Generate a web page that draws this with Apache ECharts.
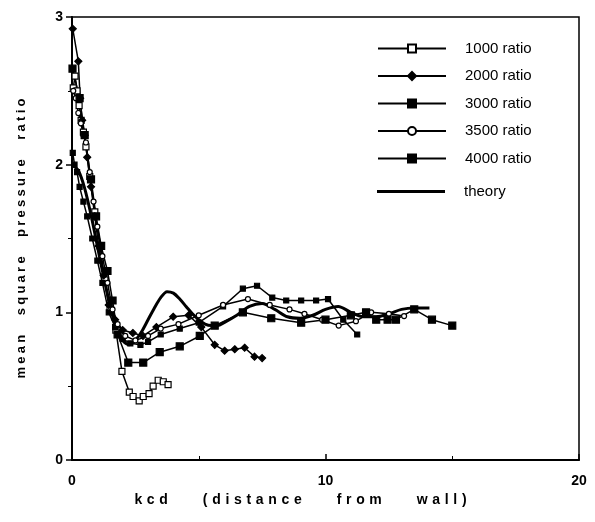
<!DOCTYPE html>
<html>
<head>
<meta charset="utf-8">
<script src="https://cdn.jsdelivr.net/npm/echarts@6/dist/echarts.min.js"></script>
<style>
  html, body { margin: 0; padding: 0; background: #fff; }
  #chart { width: 595px; height: 522px; }
</style>
</head>
<body>
<div id="chart"></div>
<script>
// Measured mean square pressure ratio vs. kcd (distance from wall), [kcd, ratio]
const ratio1000 = [[0.05,2.52],[0.12,2.6],[0.2,2.5],[0.28,2.4],[0.36,2.3],[0.45,2.22],[0.55,2.12],[0.7,1.92],[0.9,1.68],[1.1,1.45],[1.3,1.22],[1.5,1.02],[1.73,0.88],[1.97,0.60],[2.26,0.46],[2.41,0.43],[2.65,0.40],[2.81,0.43],[3.04,0.45],[3.2,0.50],[3.4,0.54],[3.6,0.53],[3.79,0.51]];
const ratio2000 = [[0.03,2.92],[0.25,2.7],[0.32,2.45],[0.4,2.3],[0.5,2.2],[0.6,2.05],[0.75,1.85],[0.9,1.65],[1.05,1.45],[1.25,1.25],[1.45,1.05],[1.7,0.95],[2.0,0.88],[2.4,0.86],[2.8,0.84],[3.33,0.90],[3.99,0.97],[4.6,0.98],[5.1,0.9],[5.63,0.78],[6.02,0.74],[6.42,0.75],[6.81,0.76],[7.2,0.70],[7.5,0.69]];
const ratio3000 = [[0.03,2.08],[0.1,2.0],[0.2,1.95],[0.3,1.85],[0.45,1.75],[0.6,1.65],[0.8,1.5],[1.0,1.35],[1.2,1.2],[1.45,1.0],[1.7,0.9],[2.0,0.82],[2.3,0.79],[2.7,0.78],[3.0,0.8],[3.5,0.85],[4.25,0.89],[5.0,0.93],[5.96,1.04],[6.74,1.16],[7.3,1.18],[7.9,1.10],[8.45,1.08],[9.04,1.08],[9.63,1.08],[10.1,1.09],[10.7,0.95],[11.25,0.85]];
const ratio3500 = [[0.05,2.5],[0.15,2.45],[0.25,2.35],[0.35,2.28],[0.45,2.2],[0.55,2.15],[0.7,1.95],[0.85,1.75],[1.0,1.58],[1.2,1.38],[1.4,1.2],[1.6,1.02],[1.8,0.92],[2.1,0.84],[2.5,0.81],[3.0,0.84],[3.5,0.89],[4.2,0.92],[5.0,0.98],[5.96,1.05],[6.94,1.09],[7.8,1.05],[8.58,1.02],[9.17,0.99],[9.87,0.95],[10.52,0.91],[11.2,0.94],[11.8,1.0],[12.5,0.99],[13.1,0.975]];
const ratio4000 = [[0.02,2.65],[0.3,2.45],[0.5,2.2],[0.75,1.9],[0.95,1.65],[1.15,1.45],[1.4,1.28],[1.6,1.08],[1.8,0.85],[2.22,0.66],[2.81,0.66],[3.46,0.73],[4.25,0.77],[5.04,0.84],[5.63,0.91],[6.74,1.0],[7.86,0.96],[9.04,0.93],[10.0,0.95],[11.0,0.98],[11.6,1.0],[12.0,0.95],[12.45,0.95],[12.78,0.95],[13.5,1.02],[14.2,0.95],[15.0,0.91]];
const theory = [[0,2.0],[0.25,1.96],[0.5,1.84],[0.75,1.66],[1.0,1.45],[1.25,1.24],[1.5,1.05],[1.75,0.91],[2.0,0.81],[2.25,0.78],[2.5,0.81],[2.75,0.87],[3.0,0.95],[3.25,1.03],[3.5,1.10],[3.75,1.14],[4.0,1.13],[4.25,1.09],[4.5,1.04],[4.75,0.99],[5.0,0.95],[5.25,0.92],[5.5,0.91],[5.75,0.91],[6.0,0.93],[6.5,0.98],[7.0,1.04],[7.5,1.06],[8.0,1.02],[8.5,0.97],[9.0,0.96],[9.5,0.98],[10.0,1.02],[10.5,1.04],[11.0,1.0],[11.5,0.97],[12.0,0.97],[12.5,0.99],[13.0,1.02],[13.5,1.03],[14.1,1.03]];

const xTicks = [0, 10, 20];
const yTicks = [0, 1, 2, 3];
const xTitle = 'kcd (distance from wall)';
const yTitle = 'mean square pressure ratio';

const FONT = 'Liberation Sans';

// Widen a title: a small space between letters, a wider gap between words
function spaced(text, letterGap, wordGap) {
  return text.split(' ').map(w => w.split('').join(letterGap)).join(wordGap);
}

const chart = echarts.init(document.getElementById('chart'), null, { renderer: 'canvas' });

function dataSeries(name, data, symbol, size, fill) {
  return {
    name, type: 'line', data, symbol, symbolSize: size,
    showSymbol: true,
    lineStyle: { color: '#000', width: 1.5 },
    itemStyle: { color: fill, borderColor: '#000', borderWidth: 1.2 },
    emphasis: { disabled: true },
    z: 3
  };
}

const legendText = {
  fontFamily: FONT, fontSize: 15, color: '#000',
  padding: [0, 0, 0, 14]
};

chart.setOption({
  animation: false,
  backgroundColor: '#fff',
  grid: {
    left: 72, right: 16, top: 17, bottom: 62,
    show: true, borderColor: '#000', borderWidth: 1.5
  },
  legend: [{
    data: ['1000 ratio', '2000 ratio', '3000 ratio', '3500 ratio', '4000 ratio'],
    orient: 'vertical', left: 372, top: 36,
    itemWidth: 68, itemHeight: 10, itemGap: 12.5,
    textStyle: legendText, selectedMode: false
  }, {
    data: [{ name: 'theory', icon: 'rect' }],
    orient: 'vertical', left: 372, top: 179,
    itemWidth: 68, itemHeight: 3,
    textStyle: legendText, selectedMode: false
  }],
  xAxis: {
    type: 'value', min: 0, max: 20, interval: 10,
    name: spaced(xTitle, '\u2004', '\u2003\u2003\u2002'), nameLocation: 'middle', nameGap: 33,
    nameTextStyle: {
      fontFamily: FONT, fontSize: 14, fontWeight: 'bold', color: '#000',
      padding: [0, 50, 0, 0]
    },
    axisLine: { onZero: false, lineStyle: { color: '#000', width: 2 } },
    axisTick: { inside: true, length: 6, lineStyle: { color: '#000', width: 1.5 } },
    minorTick: { show: true, splitNumber: 2, length: 4, lineStyle: { color: '#000' } },
    axisLabel: {
      fontFamily: FONT, fontSize: 14, fontWeight: 'bold', color: '#000', margin: 14,
      formatter: v => xTicks.includes(v) ? String(v) : ''
    },
    splitLine: { show: false }
  },
  yAxis: {
    type: 'value', min: 0, max: 3, interval: 1,
    name: spaced(yTitle, '\u2005', '\u2003\u2002'), nameLocation: 'middle', nameGap: 44,
    nameTextStyle: { fontFamily: FONT, fontSize: 13, fontWeight: 'bold', color: '#000' },
    axisLine: { onZero: false, lineStyle: { color: '#000', width: 2 } },
    axisTick: { length: 6, lineStyle: { color: '#000', width: 1.5 } },
    minorTick: { show: true, splitNumber: 2, length: 4, lineStyle: { color: '#000' } },
    axisLabel: {
      fontFamily: FONT, fontSize: 14, fontWeight: 'bold', color: '#000', margin: 9,
      formatter: v => yTicks.includes(v) ? String(v) : ''
    },
    splitLine: { show: false }
  },
  series: [
    dataSeries('1000 ratio', ratio1000, 'rect', 6, '#fff'),
    dataSeries('2000 ratio', ratio2000, 'diamond', 7, '#000'),
    dataSeries('3000 ratio', ratio3000, 'rect', 5, '#000'),
    dataSeries('3500 ratio', ratio3500, 'circle', 5, '#fff'),
    dataSeries('4000 ratio', ratio4000, 'rect', 7, '#000'),
    {
      name: 'theory', type: 'line', data: theory, symbol: 'none', smooth: 0.3,
      lineStyle: { color: '#000', width: 3 },
      itemStyle: { color: '#000' },
      emphasis: { disabled: true },
      z: 2
    }
  ]
});
</script>
</body>
</html>
